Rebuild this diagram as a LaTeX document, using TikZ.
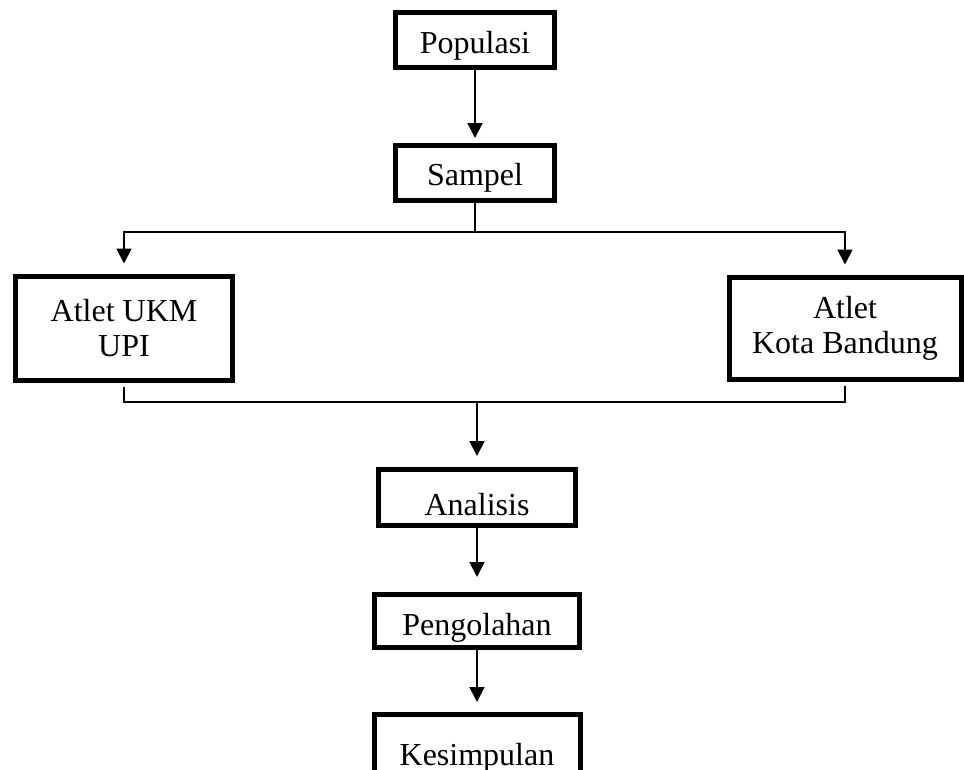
\documentclass[tikz,border=0pt]{standalone}
\usepackage{fontspec}
\setmainfont{Liberation Serif}
\usepackage{tikz}
\usetikzlibrary{positioning,arrows.meta}
\tikzstyle{box}=[draw=black, line width=5pt, inner sep=0pt, align=center,
        font=\fontsize{32}{35}\selectfont]
\tikzstyle{line}=[line width=1.8pt]
\tikzstyle{arr}=[line width=1.8pt, -{Triangle[width=15pt,length=15pt]}]

\begin{document}
\begin{tikzpicture}[x=1pt, y=-1pt]

        \useasboundingbox (0,0) rectangle (964,769);

        \node[box, minimum width=159pt, minimum height=55pt, text height=26pt,
            text depth=0pt] (pop) at (475,40) {Populasi};
        \node[box, below=73pt of pop, minimum width=159pt, minimum height=55pt,
            text height=24pt, text depth=0pt] (samp) {Sampel};
        \node[box, minimum width=217pt, minimum height=104pt] (ukm) at (124,328)
            {Atlet UKM\\UPI};
        \node[box, minimum width=232pt, minimum height=102pt] (kota) at (845,328)
            {Atlet\\Kota Bandung};
        \node[box, minimum width=197pt, minimum height=56pt, text height=35pt,
            text depth=0pt] (anal) at (477,497.5) {Analisis};
        \node[box, below=64pt of anal, minimum width=205pt, minimum height=53pt,
            text height=28pt, text depth=0pt] (olah) {Pengolahan};
        \node[box, below=62pt of olah, minimum width=206pt, minimum height=90pt,
            text height=11pt, text depth=0pt] (simp) {Kesimpulan};

        \coordinate (fork) at (475,232);
        \coordinate (join) at (477,402);

        \draw[arr, shorten >=5pt] (pop) -- (samp);
        \draw[line] (samp) -- (fork);
        \draw[arr, shorten >=10pt] (fork) -| (ukm);
        \draw[arr, shorten >=10pt] (fork) -| (kota);
        \draw[line, shorten <=4pt] (ukm) |- (join);
        \draw[line, shorten <=4pt] (kota) |- (join);
        \draw[arr, shorten >=11pt] (join) -- (anal);
        \draw[arr, shorten >=15pt] (anal) -- (olah);
        \draw[arr, shorten >=10pt] (olah) -- (simp);

    \end{tikzpicture}
\end{document}
